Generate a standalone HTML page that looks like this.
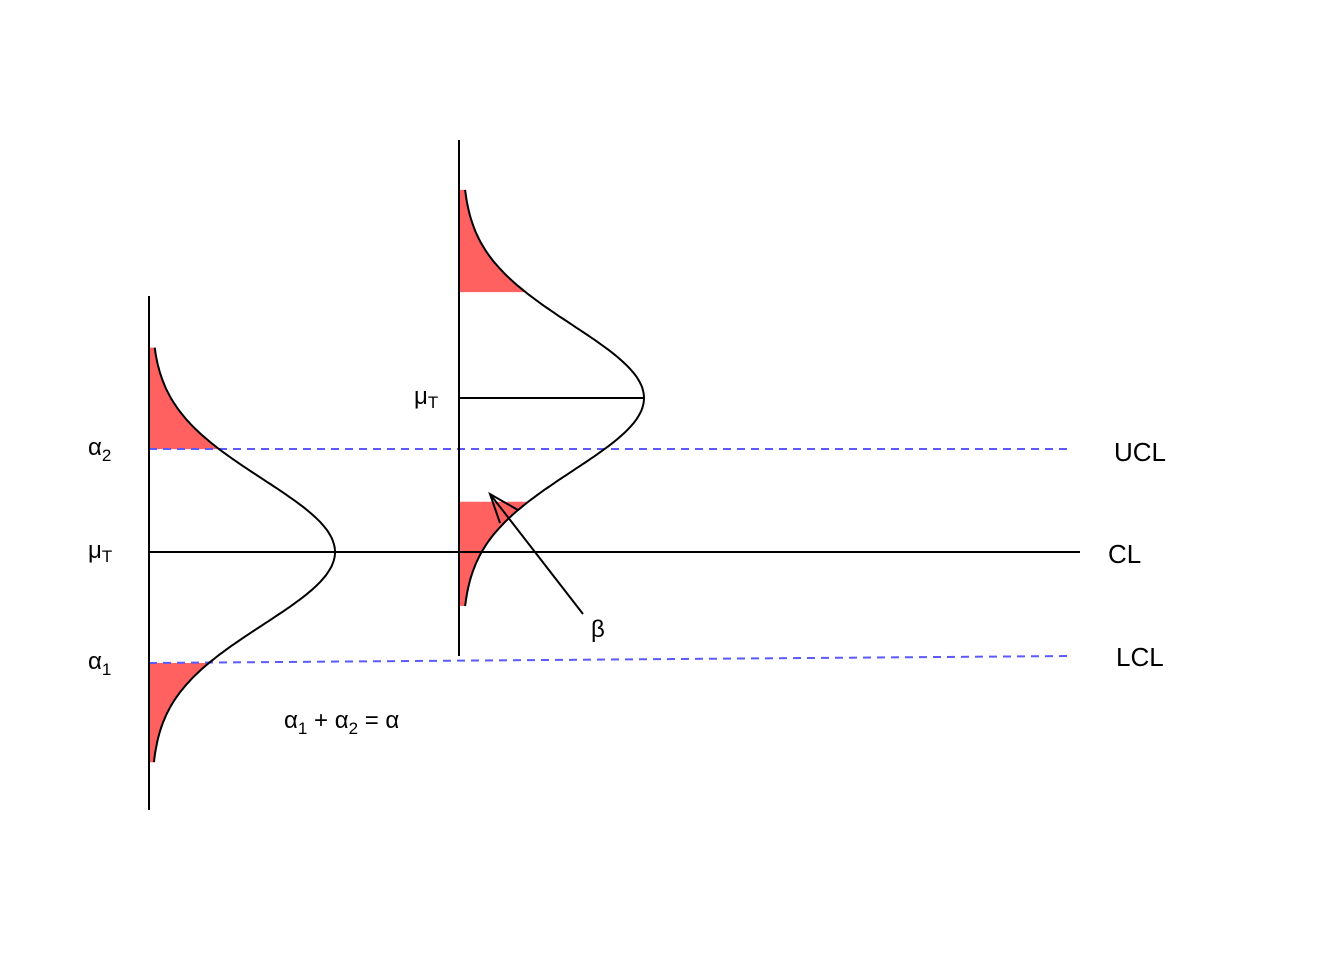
<!DOCTYPE html>
<html><head><meta charset="utf-8"><style>
html,body{margin:0;padding:0;background:#fff}
svg{display:block;font-family:"Liberation Sans",sans-serif}
</style></head><body>
<svg id="chart" width="1344" height="960" viewBox="0 0 1344 960" xmlns="http://www.w3.org/2000/svg">
<g id="fills"></g>
<line x1="149" y1="449" x2="1072" y2="449" stroke="#5a5aff" stroke-width="2" stroke-dasharray="8,6"/>
<line x1="149" y1="663" x2="1072" y2="656" stroke="#5a5aff" stroke-width="2" stroke-dasharray="8,6"/>
<line x1="149" y1="552" x2="1080" y2="552" stroke="#000" stroke-width="2"/>
<line x1="149" y1="296" x2="149" y2="810" stroke="#000" stroke-width="2"/>
<line x1="459" y1="140" x2="459" y2="656" stroke="#000" stroke-width="2"/>
<line x1="459" y1="398" x2="644" y2="398" stroke="#000" stroke-width="2"/>
<g id="curves"></g>
<g stroke="#000" stroke-width="2" fill="none">
<line x1="583" y1="614" x2="490" y2="494"/>
<polyline points="500,523 490,494 518,510"/>
</g>
<g font-size="24" fill="#000">
<text x="88" y="455">α<tspan font-size="17" dy="6">2</tspan></text>
<text x="88" y="558">μ<tspan font-size="17" dy="4">T</tspan></text>
<text x="88" y="669">α<tspan font-size="17" dy="6">1</tspan></text>
<text x="414" y="404">μ<tspan font-size="17" dy="4">T</tspan></text>
<text x="284" y="728">α<tspan font-size="17" dy="6">1</tspan><tspan dy="-6"> + α</tspan><tspan font-size="17" dy="6">2</tspan><tspan dy="-6"> = α</tspan></text>
<text x="591" y="637">β</text>
<text x="1114" y="461" font-size="26">UCL</text>
<text x="1108" y="563" font-size="26">CL</text>
<text x="1116" y="666" font-size="26">LCL</text>
</g>
</svg>
<script>
// distributions: axis x, centre y (px), peak height, sigma (px), tail span in sigmas
const curveAxisX=[151,462];
const curveCenterY=[552,398];
const curvePeak=[184,182];
const curveSigma=[73,73];
const tailTopZ=[2.8,2.85];
const tailBottomZ=[-2.88,-2.85];
// shaded regions as [fromZ,toZ] (positive = upward)
const shadeRegions=[[[1.41,2.8],[-2.88,-1.52]],[[1.45,2.85],[-2.85,-1.42]]];
const NS="http://www.w3.org/2000/svg";
const curves=document.getElementById('curves'),fills=document.getElementById('fills');
function px(i,z){return curveAxisX[i]+curvePeak[i]*Math.exp(-z*z/2);}
function py(i,z){return curveCenterY[i]-z*curveSigma[i];}
for(let i=0;i<2;i++){
  let d="";
  for(let k=0;k<=200;k++){const z=tailTopZ[i]+(tailBottomZ[i]-tailTopZ[i])*k/200;d+=(k?"L":"M")+px(i,z).toFixed(1)+","+py(i,z).toFixed(1);}
  const p=document.createElementNS(NS,'path');
  
  
  p.setAttribute('d',d);p.setAttribute('fill','none');p.setAttribute('stroke','#000');p.setAttribute('stroke-width','2');
  curves.appendChild(p);
  shadeRegions[i].forEach((r,j)=>{
    let s="M"+(curveAxisX[i]-2)+","+py(i,r[0]).toFixed(1);
    for(let k=0;k<=60;k++){const z=r[0]+(r[1]-r[0])*k/60;s+="L"+px(i,z).toFixed(1)+","+py(i,z).toFixed(1);}
    s+="L"+(curveAxisX[i]-2)+","+py(i,r[1]).toFixed(1)+"Z";
    const f=document.createElementNS(NS,'path');
    
    
    f.setAttribute('d',s);f.setAttribute('fill','#ff6060');
    fills.appendChild(f);
  });
}
</script>
</body></html>
